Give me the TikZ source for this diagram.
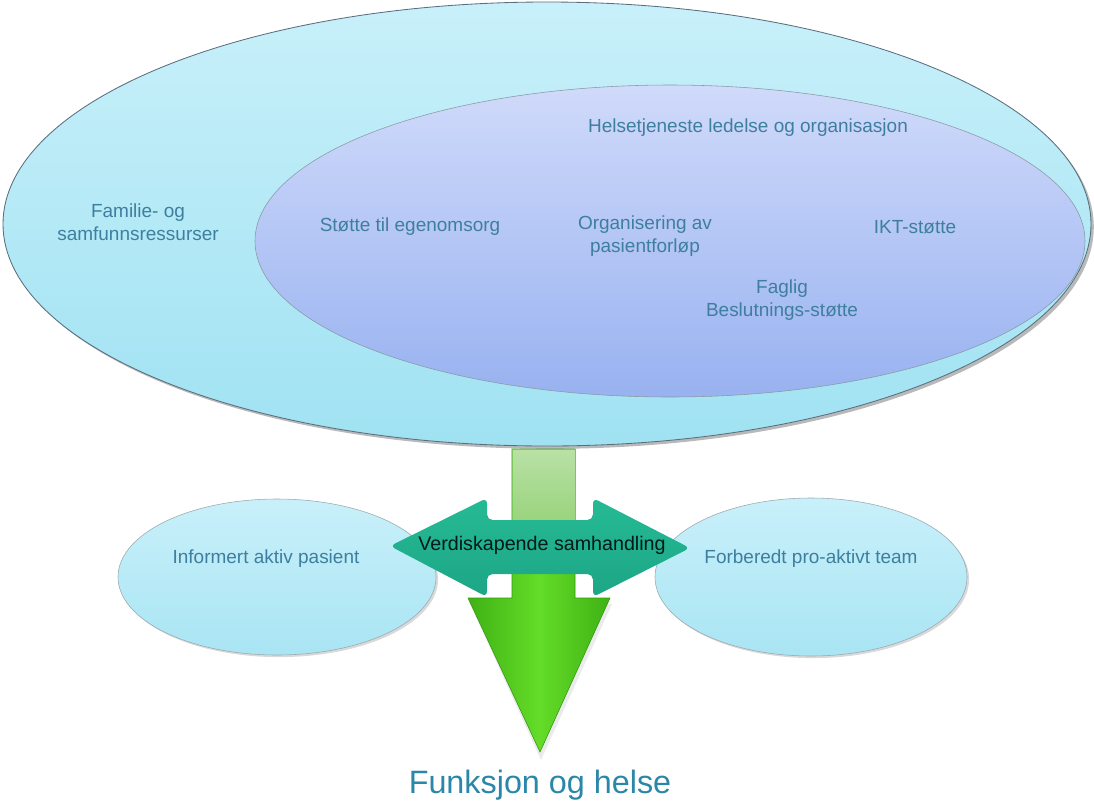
\documentclass[tikz,border=0pt]{standalone}
\usepackage{fontspec}
\setmainfont{Liberation Sans}
\usetikzlibrary{shapes.geometric,shadows}
\definecolor{txtblue}{RGB}{62,126,158}
\definecolor{titleblue}{RGB}{42,135,168}
\definecolor{outtop}{RGB}{200,240,250}
\definecolor{outbot}{RGB}{160,226,242}
\definecolor{intop}{RGB}{208,218,250}
\definecolor{inbot}{RGB}{152,178,240}
\definecolor{edge}{RGB}{90,110,125}
\definecolor{teal1}{RGB}{38,186,148}
\definecolor{teal2}{RGB}{28,166,134}
\definecolor{gpale}{RGB}{185,225,165}
\definecolor{gpale2}{RGB}{150,210,120}
\definecolor{gbright}{RGB}{100,220,40}
\definecolor{gdeep}{RGB}{62,178,20}
\begin{document}
\begin{tikzpicture}[x=0.025cm,y=-0.025cm,
  lbl/.style={text=txtblue,font=\fontsize{13.5}{16}\selectfont,align=center,inner sep=0pt},
  blob/.style={ellipse,draw=edge,line width=0.6pt,inner sep=0pt},
]
\useasboundingbox (0,0) rectangle (1094,805);
% outer ellipse
\node[blob,minimum width=1088*0.025cm,minimum height=444*0.025cm,
  top color=outtop,bottom color=outbot,
  drop shadow={shadow xshift=2pt,shadow yshift=-2pt,opacity=0.55}] (outer) at (547,224) {};
% inner ellipse
\node[blob,draw=edge!70,line width=0.4pt,minimum width=830*0.025cm,minimum height=312*0.025cm,
  top color=intop,bottom color=inbot] (inner) at (670,241) {};
% small ellipses
\node[blob,draw=edge!60,line width=0.4pt,minimum width=318*0.025cm,minimum height=156*0.025cm,
  top color=outtop,bottom color=outbot!90,
  drop shadow={shadow xshift=1.5pt,shadow yshift=-1.5pt,opacity=0.3}] (left) at (277,577) {};
\node[blob,draw=edge!60,line width=0.4pt,minimum width=312*0.025cm,minimum height=158*0.025cm,
  top color=outtop,bottom color=outbot!90,
  drop shadow={shadow xshift=1.5pt,shadow yshift=-1.5pt,opacity=0.3}] (right) at (811,577) {};
% green arrow
\coordinate (gtip) at (540,752);
\fill[black,opacity=0.08] (470,604) -- (612,604) -- (541,760) -- cycle;
\path[draw=gdeep!85!black,line width=0.4pt,left color=gdeep,right color=gdeep,middle color=gbright]
  (512,449) -- (575,449) -- (575,598) -- (610,598) -- (gtip) -- (468,598) -- (512,598) -- cycle;
\path[draw=gdeep!70,line width=0.4pt,top color=gpale,bottom color=gpale2]
  (512,449) -- (575,449) -- (575,530) -- (512,530) -- cycle;
% teal double arrow
\coordinate (tl) at (390,546);
\coordinate (tr) at (690,548);
\path[top color=teal1,bottom color=teal2,rounded corners=4pt]
  (tl) -- (487,498) -- (487,520) -- (593,520) -- (593,498) -- (tr)
  -- (593,597) -- (593,574) -- (487,574) -- (487,597) -- cycle;
\node[text=black!80!teal,font=\fontsize{14}{16}\selectfont,inner sep=0pt] (vs) at (542,545) {Verdiskapende samhandling};
% labels
\node[lbl] (hel) at (748,128) {Helsetjeneste ledelse og organisasjon};
\node[lbl] (fam) at (138,222) {Familie- og\\samfunnsressurser};
\node[lbl] (sto) at (410,227) {Støtte til egenomsorg};
\node[lbl] (org) at (645,236) {Organisering av\\pasientforløp};
\node[lbl] (ikt) at (915,227) {IKT-støtte};
\node[lbl] (fag) at (782,300) {Faglig\\Beslutnings-støtte};
\node[lbl] (inf) at (266,559) {Informert aktiv pasient};
\node[lbl] (for) at (811,559) {Forberedt pro-aktivt team};
\node[text=titleblue,font=\fontsize{23}{27}\selectfont,inner sep=0pt] (fun) at (540,785) {Funksjon og helse};
\end{tikzpicture}
\end{document}
